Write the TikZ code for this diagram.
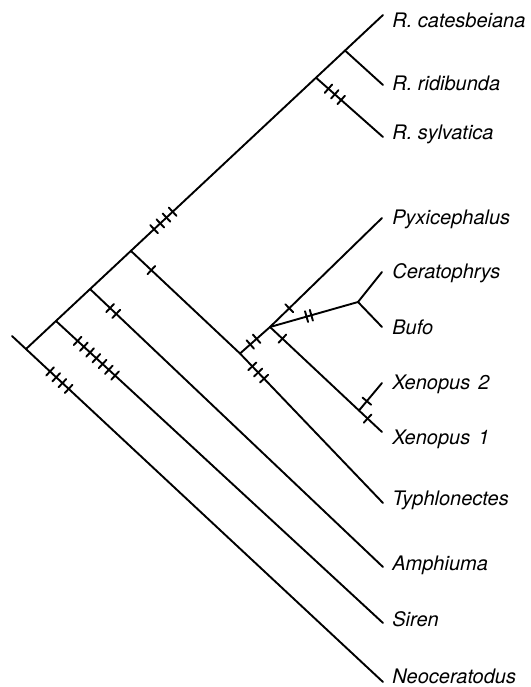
\documentclass[tikz,border=0pt]{standalone}
\usepackage{fontspec}
\setmainfont{TeX Gyre Heros}
\usetikzlibrary{calc,decorations.markings}
\tikzset{
  branch/.style={line width=0.95pt, line cap=round, line join=round},
  taxon/.style={anchor=base west, inner sep=0pt, font=\itshape\fontsize{10}{12}\selectfont},
  % hatch = {first}{last}{step}: short cross bars on a branch
  hatch/.style n args={3}{postaction={decorate, decoration={markings,
      mark=between positions #1 and #2 step #3 with {\draw[branch] (0pt,-2.8pt) -- (0pt,2.8pt);}}}}
}
\begin{document}
\begin{tikzpicture}[x=0.5pt, y=-0.5pt]
\useasboundingbox (0,0) rectangle (531,687);

% tips
\coordinate (cat)  at (383,15);
\coordinate (rid)  at (383,85);
\coordinate (syl)  at (383,137);
\coordinate (pyx)  at (382,218);
\coordinate (cer)  at (382,272);
\coordinate (bufo) at (382,327);
\coordinate (xe2)  at (382,383);
\coordinate (xe1)  at (382,432);
\coordinate (typ)  at (383,503);
\coordinate (amp)  at (383,567);
\coordinate (sir)  at (383,623);
\coordinate (neo)  at (383,682);

% inner nodes
\coordinate (stub) at (12,336);
\coordinate (r0) at (26,349);
\coordinate (n1) at (56,321);
\coordinate (n2) at (90,289);
\coordinate (n3) at (131,251);
\coordinate (n4) at (316,77.7);
\coordinate (n5) at (345,50.5);
\coordinate (n6) at (240,353.5);
\coordinate (n7) at (270,327);
\coordinate (n8) at (358,302);
\coordinate (n9) at (359,410.5);

% branches
\draw[branch, hatch={26pt}{39.5pt}{4.25pt}] (stub) -- (neo);
\draw[branch, hatch={87.7pt}{101pt}{4.25pt}] (r0) -- (cat);
\draw[branch, hatch={14.7pt}{41pt}{4.25pt}] (n1) -- (sir);
\draw[branch, hatch={13.85pt}{18.6pt}{4.25pt}] (n2) -- (amp);
\draw[branch, hatch={13.95pt}{14pt}{4pt}] (n3) -- (n6);
\draw[branch, hatch={8.9pt}{17.9pt}{4.25pt}] (n6) -- (typ);
\draw[branch, hatch={8.3pt}{17.3pt}{4.25pt}] (n4) -- (syl);
\draw[branch] (n5) -- (rid);
\draw[branch, hatch={6.85pt}{11.6pt}{4.25pt}] (n6) -- (n7);
\draw[branch, hatch={13.45pt}{13.5pt}{4pt}] (n7) -- (pyx);
\draw[branch, hatch={19pt}{21.9pt}{2.5pt}] (n7) -- (n8);
\draw[branch] (n8) -- (cer);
\draw[branch] (n8) -- (bufo);
\draw[branch, hatch={8.5pt}{8.6pt}{4pt}] (n7) -- (n9);
\draw[branch, hatch={6.1pt}{6.2pt}{4pt}] (n9) -- (xe2);
\draw[branch, hatch={5.9pt}{6pt}{4pt}] (n9) -- (xe1);

% taxa
\node[taxon] (lcat)  at (392,27)  {R. catesbeiana};
\node[taxon] (lrid)  at (392,90)  {R. ridibunda};
\node[taxon] (lsyl)  at (392,139) {R. sylvatica};
\node[taxon] (lpyx)  at (392,224.5) {Pyxicephalus};
\node[taxon] (lcer)  at (392,278.5) {Ceratophrys};
\node[taxon] (lbufo) at (392,334) {Bufo};
\node[taxon] (lxe2)  at (392,389) {Xenopus\hspace{0.4em}2};
\node[taxon] (lxe1)  at (392,444) {Xenopus\hspace{0.4em}1};
\node[taxon] (ltyp)  at (392,505) {Typhlonectes};
\node[taxon] (lamp)  at (392,570) {Amphiuma};
\node[taxon] (lsir)  at (392,626.5) {Siren};
\node[taxon] (lneo)  at (392,683) {Neoceratodus};

\end{tikzpicture}
\end{document}
